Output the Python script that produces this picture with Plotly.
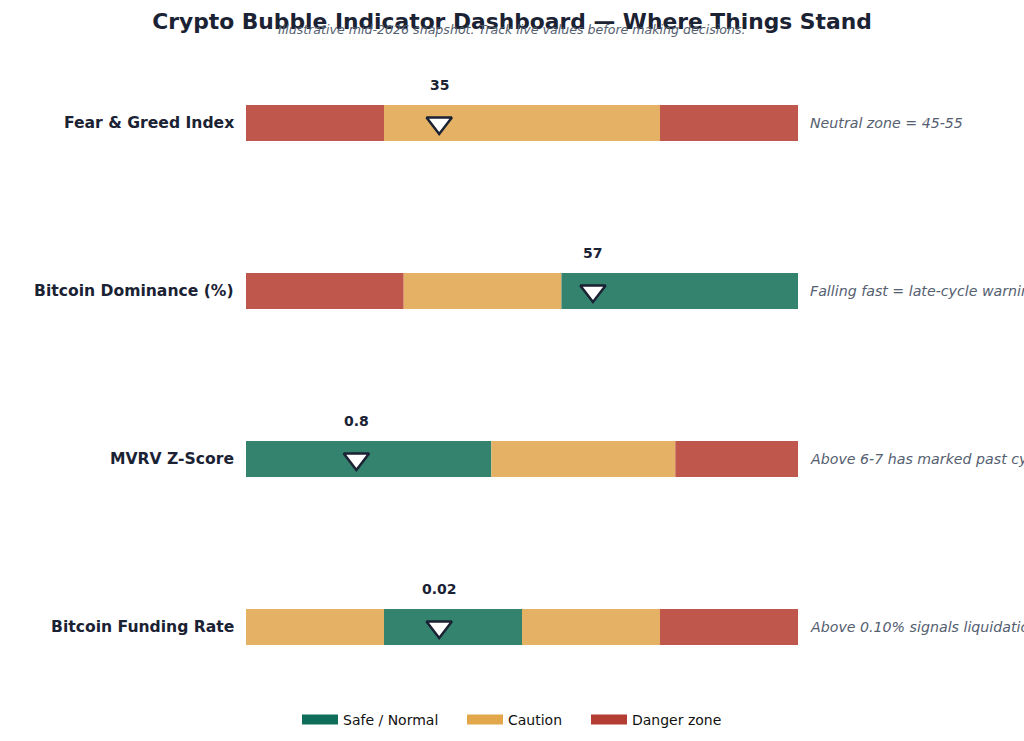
import plotly.graph_objects as go

indicators = ["Fear & Greed Index", "Bitcoin Dominance (%)", "MVRV Z-Score", "Bitcoin Funding Rate"]
scale_min = [0, 35, -1, -0.05]
scale_max = [100, 70, 8, 0.15]
# zone boundaries (start, end, zone type) per indicator
zones = [
    [(0, 25, "danger"), (25, 75, "caution"), (75, 100, "danger")],
    [(35, 45, "danger"), (45, 55, "caution"), (55, 70, "safe")],
    [(-1, 3, "safe"), (3, 6, "caution"), (6, 8, "danger")],
    [(-0.05, 0, "caution"), (0, 0.05, "safe"), (0.05, 0.10, "caution"), (0.10, 0.15, "danger")],
]
current_values = [35, 57, 0.8, 0.02]
value_labels = ["35", "57", "0.8", "0.02"]
notes = [
    "Neutral zone = 45-55",
    "Falling fast = late-cycle warning",
    "Above 6-7 has marked past cycle tops",
    "Above 0.10% signals liquidation risk",
]
zone_order = ["safe", "caution", "danger"]
legend_names = {"safe": "Safe / Normal", "caution": "Caution", "danger": "Danger zone"}

solid = {"safe": "#0f6e5a", "caution": "#e2a64b", "danger": "#b33d32"}
bar_col = {"safe": "#33836f", "caution": "#e5b165", "danger": "#bf574d"}
dark = "#1a2233"
grey = "#556070"
FONT = "DejaVu Sans"

fig = go.Figure()

for i, zl in enumerate(zones):
    lo, hi = scale_min[i], scale_max[i]
    span = hi - lo
    for (a, b, z) in zl:
        fig.add_trace(go.Bar(
            y=[i], x=[(b - a) / span], base=[(a - lo) / span],
            orientation="h", width=0.215,
            marker=dict(color=bar_col[z], line=dict(width=0)),
            showlegend=False, hoverinfo="skip",
        ))

norm_vals = [(v - scale_min[i]) / (scale_max[i] - scale_min[i]) for i, v in enumerate(current_values)]
fig.add_trace(go.Scatter(
    x=norm_vals, y=list(range(len(indicators))), mode="markers",
    marker=dict(symbol="triangle-down", size=22, color="white", line=dict(color=dark, width=2.5)),
    showlegend=False, hoverinfo="skip", cliponaxis=False,
))

legend_keys = ["legend", "legend2", "legend3"]
for k, z in enumerate(zone_order):
    fig.add_trace(go.Scatter(
        x=[None], y=[None], mode="lines", name=legend_names[z],
        line=dict(color=solid[z], width=12), legend=legend_keys[k],
    ))

annotations = []
for i, name in enumerate(indicators):
    annotations.append(dict(
        x=0, y=i, xref="x", yref="y", text=name, showarrow=False,
        xanchor="right", xshift=-10,
        font=dict(family=FONT, size=15.6, color=dark, weight="bold"),
    ))
    annotations.append(dict(
        x=1, y=i, xref="x", yref="y", text=f"<i>{notes[i]}</i>", showarrow=False,
        xanchor="left", xshift=10,
        font=dict(family=FONT, size=14.2, color=grey),
    ))
    annotations.append(dict(
        x=norm_vals[i], y=i, xref="x", yref="y", text=f"<b>{value_labels[i]}</b>",
        showarrow=False, xanchor="center", yanchor="middle", yshift=38,
        font=dict(family=FONT, size=14, color=dark),
    ))

annotations.append(dict(
    x=(512 - 246) / 552, y=(741 - 30 - 29) / 672, xref="paper", yref="paper",
    text="<i>Illustrative mid-2026 snapshot. Track live values before making decisions.</i>",
    showarrow=False, xanchor="center", yanchor="middle",
    font=dict(family=FONT, size=12.6, color=grey),
))

leg_common = dict(
    orientation="h", yref="container", y=1 - 720 / 741, yanchor="middle",
    xref="container", xanchor="left",
    font=dict(family=FONT, size=14, color="#111111"),
    itemwidth=36, bgcolor="rgba(0,0,0,0)",
)
leg_x = [(302 - 5) / 1024, (467 - 5) / 1024, (591 - 5) / 1024]

fig.update_layout(
    width=1024, height=741,
    margin=dict(l=246, r=226, t=39, b=30, autoexpand=False),
    paper_bgcolor="white", plot_bgcolor="white",
    barmode="overlay",
    title=dict(
        text="<b>Crypto Bubble Indicator Dashboard — Where Things Stand</b>",
        x=0.5, xanchor="center", y=1 - 21 / 741, yanchor="middle",
        font=dict(family=FONT, size=21.8, color=dark),
    ),
    xaxis=dict(range=[0, 1], visible=False, fixedrange=True),
    yaxis=dict(range=[3.5, -0.5], visible=False, fixedrange=True),
    showlegend=True,
    legend=dict(leg_common, x=leg_x[0]),
    legend2=dict(leg_common, x=leg_x[1]),
    legend3=dict(leg_common, x=leg_x[2]),
    annotations=annotations,
)

fig.write_html(
    "out.html",
    config={"displayModeBar": False},
    post_script="document.body.style.margin='0';document.body.style.overflow='hidden';",
)
